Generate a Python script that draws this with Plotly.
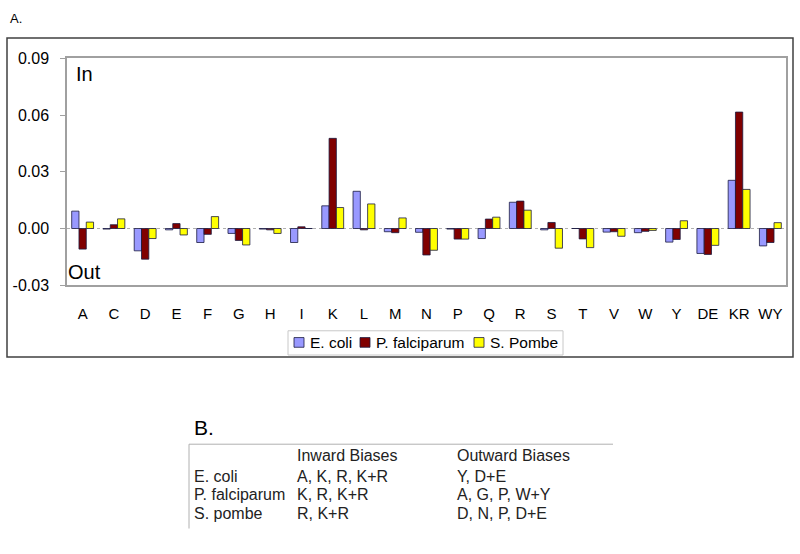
"""
plot.py
------------------------------------
Amino acid bias chart (A) with summary table (B)
"""

import plotly.graph_objects as go

categories = ["A", "C", "D", "E", "F", "G", "H", "I", "K", "L", "M", "N",
              "P", "Q", "R", "S", "T", "V", "W", "Y", "DE", "KR", "WY"]

e_coli = [0.0092, -0.0003, -0.0118, -0.0007, -0.0074, -0.0026, -0.0003, -0.0074,
          0.0120, 0.0197, -0.0017, -0.0020, -0.0003, -0.0053, 0.0139, -0.0007,
          0.0, -0.0019, -0.0022, -0.0072, -0.0132, 0.0255, -0.0092]
p_falciparum = [-0.0109, 0.0020, -0.0162, 0.0026, -0.0031, -0.0063, -0.0007, 0.0009,
                0.0477, -0.0007, -0.0022, -0.0140, -0.0056, 0.0050, 0.0145, 0.0032,
                -0.0055, -0.0017, -0.0015, -0.0058, -0.0137, 0.0616, -0.0074]
s_pombe = [0.0034, 0.0051, -0.0053, -0.0034, 0.0063, -0.0087, -0.0026, 0.0,
           0.0111, 0.0130, 0.0056, -0.0115, -0.0056, 0.0060, 0.0097, -0.0104,
           -0.0101, -0.0041, -0.0010, 0.0041, -0.0089, 0.0207, 0.0031]

series_names = ["E. coli", "P. falciparum", "S. Pombe"]
series_colors = ["#9999FF", "#800000", "#FFFF00"]

y_tick_vals = [-0.03, 0.0, 0.03, 0.06, 0.09]
y_tick_text = ["-0.03", "0.00", "0.03", "0.06", "0.09"]

table_header = ["", "Inward Biases", "Outward Biases"]
table_rows = [
    ["E. coli", "A, K, R, K+R", "Y, D+E"],
    ["P. falciparum", "K, R, K+R", "A, G, P, W+Y"],
    ["S. pombe", "R, K+R", "D, N, P, D+E"],
]

W, H = 800, 554
FONT = "Liberation Sans, Arial, sans-serif"
EDGE = "#1a1a40"


def px_x(x):
    return x / W


def px_y(y):
    return 1 - y / H


fig = go.Figure()

for name, vals, color in zip(series_names, [e_coli, p_falciparum, s_pombe], series_colors):
    fig.add_trace(go.Bar(
        x=categories,
        y=vals,
        name=name,
        marker=dict(color=color, line=dict(color=EDGE, width=0.8)),
    ))

fig.update_layout(
    width=W,
    height=H,
    margin=dict(l=0, r=0, t=0, b=0),
    paper_bgcolor="white",
    plot_bgcolor="white",
    barmode="group",
    bargap=0.3,
    bargroupgap=0,
    font=dict(family=FONT, size=15, color="black"),
    showlegend=False,
    xaxis=dict(
        domain=[px_x(67), px_x(786)],
        showline=True,
        mirror=True,
        linecolor="#a0a0a0",
        linewidth=1.5,
        ticks="outside",
        ticklen=0,
        ticklabelstandoff=14,
        tickfont=dict(size=15, family=FONT),
        showgrid=False,
    ),
    yaxis=dict(
        domain=[px_y(286), px_y(52)],
        range=[-0.03, 0.09],
        tickvals=y_tick_vals,
        ticktext=y_tick_text,
        showline=True,
        mirror=True,
        linecolor="#a0a0a0",
        linewidth=1.5,
        ticks="outside",
        ticklen=5,
        tickcolor="#a0a0a0",
        ticklabelstandoff=8,
        showgrid=False,
        zeroline=False,
        tickfont=dict(size=16, family=FONT),
    ),
)

# dotted category axis crossing at zero
fig.add_shape(type="line", xref="x domain", yref="y",
              x0=0, x1=1, y0=0, y1=0, layer="below",
              line=dict(color="#b0b0b0", width=1, dash="dot"))

# outer chart border
fig.add_shape(type="rect", xref="paper", yref="paper",
              x0=px_x(7), x1=px_x(793), y0=px_y(360), y1=px_y(31),
              line=dict(color="#404040", width=1.5), layer="below")

# legend box drawn by hand to keep Excel's tight spacing
fig.add_shape(type="rect", xref="paper", yref="paper",
              x0=px_x(288), x1=px_x(563), y0=px_y(358), y1=px_y(333),
              line=dict(color="#c8c8c8", width=1))
legend_sq = [294, 360, 474]
for sx, name, color in zip(legend_sq, series_names, series_colors):
    fig.add_shape(type="rect", xref="paper", yref="paper",
                  x0=px_x(sx), x1=px_x(sx + 10), y0=px_y(350), y1=px_y(340),
                  line=dict(color=EDGE, width=0.8), fillcolor=color)
    fig.add_annotation(text=name, x=px_x(sx + 14), y=px_y(345), xref="paper",
                       yref="paper", xanchor="left", yanchor="middle",
                       showarrow=False,
                       font=dict(size=15.5, family=FONT, color="black"))

annotations = [
    dict(text="A.", x=px_x(8), y=px_y(11), size=13),
    dict(text="In", x=px_x(74), y=px_y(68), size=20),
    dict(text="Out", x=px_x(66), y=px_y(272), size=20),
    dict(text="B.", x=px_x(192), y=px_y(433), size=21),
]
for a in annotations:
    fig.add_annotation(text=a["text"], x=a["x"], y=a["y"], xref="paper", yref="paper",
                       xanchor="left", yanchor="middle", showarrow=False,
                       font=dict(size=a["size"], family=FONT, color="black"))

# table B
fig.add_shape(type="line", xref="paper", yref="paper",
              x0=px_x(189), x1=px_x(613), y0=px_y(450), y1=px_y(450),
              line=dict(color="#b0b0b0", width=1))
fig.add_shape(type="line", xref="paper", yref="paper",
              x0=px_x(189), x1=px_x(189), y0=px_y(450), y1=px_y(537),
              line=dict(color="#b0b0b0", width=1))

col_x = [192, 295, 455]
row_y = [462, 483, 502, 521]
for r, row in enumerate([table_header] + table_rows):
    for c, txt in enumerate(row):
        if not txt:
            continue
        fig.add_annotation(text=txt, x=px_x(col_x[c]), y=px_y(row_y[r]),
                           xref="paper", yref="paper", xanchor="left",
                           yanchor="middle", showarrow=False,
                           font=dict(size=16, family=FONT, color="#222222"))

# drop the default page margin so figure pixels line up with the window
fig.write_html(
    "out.html",
    config={"displayModeBar": False},
    post_script="document.body.style.margin='0';"
                "document.documentElement.style.overflow='hidden';",
)
